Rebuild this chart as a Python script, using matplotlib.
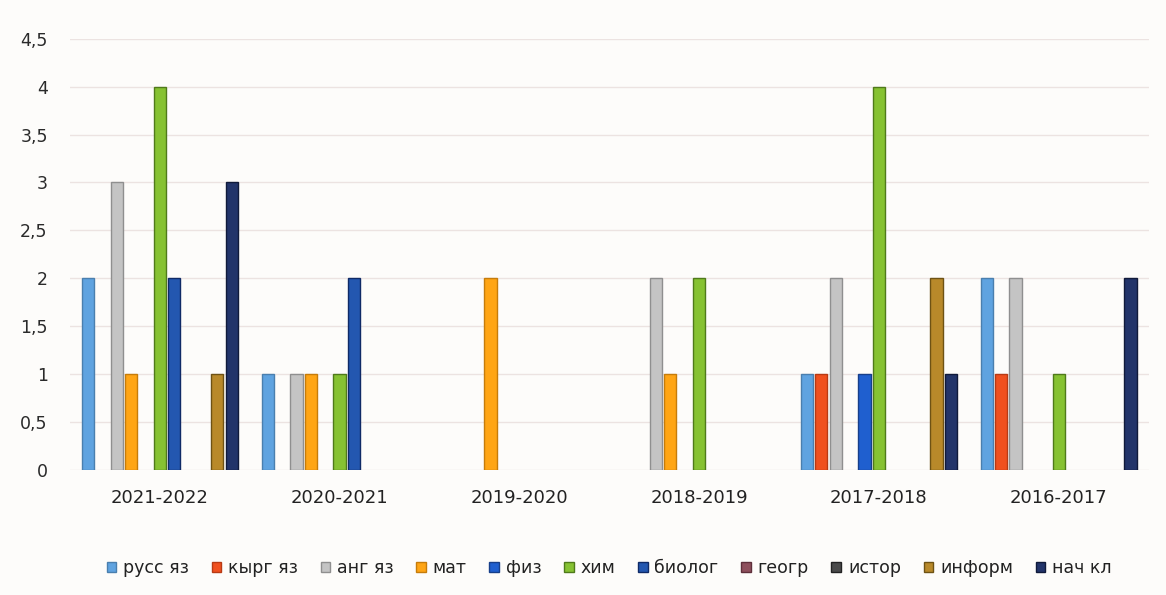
import matplotlib.pyplot as plt
import numpy as np

YEARS = ['2021-2022', '2020-2021', '2019-2020', '2018-2019', '2017-2018', '2016-2017']
SUBJECTS = ['русс яз', 'кырг яз', 'анг яз', 'мат', 'физ', 'хим',
            'биолог', 'геогр', 'истор', 'информ', 'нач кл']

# values per subject, one per year (same order as YEARS)
russ = [2, 1, 0, 0, 1, 2]
kyrg = [0, 0, 0, 0, 1, 1]
ang = [3, 1, 0, 2, 2, 2]
mat = [1, 1, 2, 1, 0, 0]
fiz = [0, 0, 0, 0, 1, 0]
him = [4, 1, 0, 2, 4, 1]
biolog = [2, 2, 0, 0, 0, 0]
geogr = [0, 0, 0, 0, 0, 0]
istor = [0, 0, 0, 0, 0, 0]
inform = [1, 0, 0, 0, 2, 0]
nach_kl = [3, 0, 0, 0, 1, 2]

SERIES = [russ, kyrg, ang, mat, fiz, him, biolog, geogr, istor, inform, nach_kl]

COLORS = ['#5fa3e0', '#f0501e', '#c4c4c4', '#ffa514', '#1f5fcf', '#86c232',
          '#2357b0', '#8e4f5c', '#4a4a4a', '#b8892a', '#22346a']
EDGES = ['#4a7fae', '#b83a14', '#8f8f8f', '#c67c0a', '#173f8a', '#4f7a1a',
         '#0f2a66', '#5e2f3a', '#222222', '#6e5214', '#101a3a']


def main():
    fig = plt.figure(figsize=(11.66, 5.95), dpi=100, facecolor='#fdfcfa')
    ax = fig.add_axes([0.06, 0.21, 0.925, 0.725])
    ax.set_facecolor('#fdfcfa')

    x = np.arange(len(YEARS))
    step = 0.08
    width = 0.068
    n = len(SERIES)
    for i, vals in enumerate(SERIES):
        offset = (i - (n - 1) / 2) * step
        lw = [1.0 if v > 0 else 0 for v in vals]
        ax.bar(x + offset, vals, width, color=COLORS[i], edgecolor=EDGES[i],
               linewidth=lw, zorder=3, label=SUBJECTS[i])

    ax.set_xlim(-0.5, len(YEARS) - 0.5)
    ax.set_ylim(0, 4.5)
    ticks = np.arange(0, 4.51, 0.5)
    ax.set_yticks(ticks)
    ax.set_yticklabels([('%g' % t).replace('.', ',') for t in ticks],
                       fontsize=12.5, color='#2a2a2a', fontweight='medium')
    ax.set_xticks(x)
    ax.set_xticklabels(YEARS, fontsize=13, color='#222222')
    ax.tick_params(axis='both', length=0)
    ax.tick_params(axis='x', pad=14)
    ax.tick_params(axis='y', pad=16)
    ax.grid(axis='y', color='#ece3e1', linewidth=1.0, zorder=0)
    for s in ax.spines.values():
        s.set_visible(False)

    handles = [plt.Rectangle((0, 0), 1, 1, facecolor=COLORS[i], edgecolor=EDGES[i],
                             linewidth=1.0) for i in range(n)]
    ax.legend(handles, SUBJECTS, loc='upper center', bbox_to_anchor=(0.5, -0.17),
              ncols=n, frameon=False, fontsize=12.5, handlelength=0.55,
              handleheight=0.55, handletextpad=0.4, columnspacing=1.3,
              labelcolor='#222222')

    plt.savefig('out.png', dpi=100, facecolor=fig.get_facecolor())


if __name__ == '__main__':
    main()
